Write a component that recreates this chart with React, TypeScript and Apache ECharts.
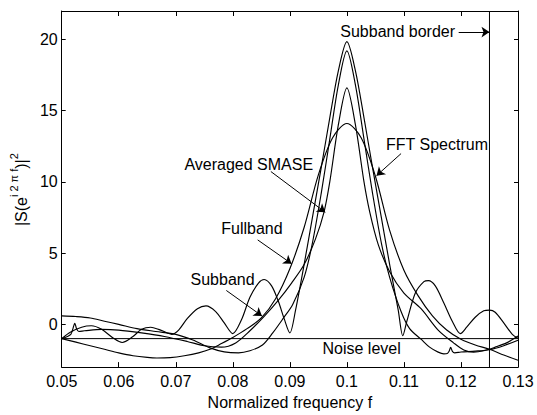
import React, { useEffect, useRef } from "react";
import * as echarts from "echarts";

// ---- axes ----
const X_MIN = 0.05;
const X_MAX = 0.13;
const Y_MIN = -3;
const Y_MAX = 22;
const xTicks = [0.05, 0.06, 0.07, 0.08, 0.09, 0.1, 0.11, 0.12, 0.13];
const yTicks = [0, 5, 10, 15, 20];

// ---- reference levels ----
const NOISE_LEVEL = -1;
const SUBBAND_BORDER = 0.125;

// ---- curves (normalized frequency, |S|^2) ----
const oscillating: [number, number][] = [
  [0.05, -1.0], [0.0515, -0.55], [0.0535, -0.2], [0.0552, -0.1], [0.057, -0.35],
  [0.059, -0.95], [0.0606, -1.27], [0.0625, -0.85], [0.064, -0.35], [0.0656, -0.2],
  [0.067, -0.35], [0.0685, -0.6], [0.0693, -0.7], [0.0705, -0.4], [0.072, 0.4],
  [0.0738, 1.1], [0.0753, 1.3], [0.077, 0.9], [0.0785, 0.1], [0.08, -0.65],
  [0.0815, 0.3], [0.083, 1.9], [0.0845, 2.9], [0.0855, 3.15], [0.0868, 2.7],
  [0.088, 1.6], [0.089, 0.4], [0.09, -0.6], [0.091, 1.0], [0.0925, 4.2],
  [0.094, 7.6], [0.0955, 11.0], [0.097, 14.5], [0.0985, 17.8], [0.1, 19.85],
  [0.1015, 17.8], [0.103, 14.5], [0.1045, 11.0], [0.106, 7.6], [0.1075, 4.2],
  [0.109, 1.0], [0.1098, -0.8], [0.1105, 0.2], [0.112, 2.2], [0.1135, 3.0],
  [0.1143, 3.07], [0.1155, 2.7], [0.117, 1.5], [0.1185, 0.2], [0.1199, -0.65],
  [0.121, -0.2], [0.1225, 0.5], [0.124, 0.95], [0.125, 1.0], [0.126, 0.85],
  [0.1275, 0.1], [0.129, -0.7], [0.13, -0.97],
];

const curveA: [number, number][] = [
  [0.05, 0.6], [0.0525, 0.55], [0.055, 0.45], [0.0575, 0.22], [0.06, 0.0],
  [0.0632, -0.3], [0.0665, -0.5], [0.07, -0.7], [0.073, -1.1], [0.076, -1.65],
  [0.0785, -1.93], [0.081, -2.0], [0.083, -1.85], [0.0852, -1.45], [0.087, -0.6],
  [0.0888, 0.4], [0.0905, 1.4], [0.0925, 3.3], [0.0939, 5.6], [0.0955, 9.2],
  [0.097, 13.0], [0.0985, 16.8], [0.1, 19.2], [0.1015, 16.8], [0.103, 13.0],
  [0.1045, 9.2], [0.1061, 5.6], [0.1075, 3.3], [0.1095, 0.9], [0.111, -0.3],
  [0.113, -1.04], [0.1145, -1.6], [0.116, -1.95], [0.117, -2.07], [0.1176, -2.05],
  [0.1179, -1.9], [0.1182, -1.62], [0.1185, -1.9], [0.1189, -2.0], [0.12, -1.94],
  [0.1225, -1.88], [0.125, -1.78], [0.1275, -1.5], [0.13, -1.12],
];

const curveB: [number, number][] = [
  [0.05, -1.0], [0.0525, -1.25], [0.055, -1.5], [0.0575, -1.75], [0.06, -2.0],
  [0.0625, -2.2], [0.065, -2.32], [0.0667, -2.36], [0.069, -2.33], [0.0715, -2.2],
  [0.074, -2.0], [0.076, -1.75], [0.078, -1.35], [0.08, -0.92], [0.0825, -0.3],
  [0.085, 0.45], [0.0875, 1.8], [0.09, 3.9], [0.0925, 6.8], [0.095, 10.5],
  [0.0975, 13.1], [0.1, 14.1], [0.1025, 13.1], [0.105, 10.4], [0.1075, 6.6],
  [0.11, 3.8], [0.1125, 2.0], [0.115, 0.6], [0.1175, -0.4], [0.12, -1.05],
  [0.1225, -1.45], [0.125, -1.75], [0.1275, -2.15], [0.13, -2.52],
];

const curveC: [number, number][] = [
  [0.05, -1.0], [0.051, -0.85], [0.0516, -0.7], [0.0519, -0.4], [0.0523, 0.08],
  [0.0526, -0.3], [0.053, -0.5], [0.054, -0.45], [0.057, -0.35], [0.06, -0.4],
  [0.064, -0.6], [0.068, -0.85], [0.072, -1.2], [0.075, -1.5], [0.078, -1.6],
  [0.0805, -1.3], [0.083, -0.45], [0.0855, 0.56], [0.088, 1.7], [0.0903, 2.9],
  [0.0925, 4.2], [0.0945, 6.0], [0.096, 7.9], [0.097, 10.0], [0.0985, 14.0],
  [0.1, 16.6], [0.1015, 14.0], [0.103, 10.0], [0.104, 7.9], [0.1055, 5.6],
  [0.1075, 3.7], [0.11, 2.2], [0.113, 1.1], [0.116, -0.4], [0.1187, -1.3],
  [0.1205, -1.8], [0.1222, -1.95], [0.124, -1.85], [0.126, -1.6], [0.128, -1.3],
  [0.13, -0.82],
];

// ---- annotations (data coordinates) ----
const annotationTexts = [
  { text: "Subband border", at: [0.1089, 20.58] },
  { text: "FFT Spectrum", at: [0.1158, 12.66] },
  { text: "Averaged SMASE", at: [0.0828, 11.24] },
  { text: "Fullband", at: [0.08335, 6.73] },
  { text: "Subband", at: [0.0782, 3.18] },
  { text: "Noise level", at: [0.10258, -1.68] },
];
const annotationArrows = [
  { from: [0.1196, 20.52], to: [0.125, 20.52] },
  { from: [0.1095, 11.99], to: [0.1052, 10.44] },
  { from: [0.08667, 10.73], to: [0.09621, 7.87] },
  { from: [0.08436, 5.93], to: [0.09031, 4.26] },
  { from: [0.07886, 2.38], to: [0.08511, 0.59] },
];

const FONT = "'Liberation Sans', Arial, Helvetica, sans-serif";
const BLACK = "#000";
const LINE_W = 1.15;

export default function App() {
  const ref = useRef<HTMLDivElement>(null);

  useEffect(() => {
    if (!ref.current) return;
    const chart = echarts.init(ref.current, undefined, { renderer: "svg" });

    const curve = (data: [number, number][]) => ({
      type: "line",
      data,
      xAxisIndex: 0,
      yAxisIndex: 0,
      smooth: 0.3,
      symbol: "none",
      silent: true,
      lineStyle: { color: BLACK, width: LINE_W },
    });

    const fmt = (v: number) => String(Number(v.toFixed(2)));

    chart.setOption({
      animation: false,
      backgroundColor: "#fff",
      textStyle: { fontFamily: FONT },
      grid: { left: 57, right: 19, top: 11, bottom: 40 },
      xAxis: [
        {
          type: "value",
          min: X_MIN,
          max: X_MAX,
          position: "bottom",
          name: "Normalized frequency f",
          nameLocation: "middle",
          nameGap: 21,
          nameTextStyle: { color: BLACK, fontSize: 16, fontFamily: FONT },
          axisLine: { show: true, onZero: false, lineStyle: { color: BLACK, width: 1 } },
          axisTick: { show: true, inside: true, length: 5, customValues: xTicks, lineStyle: { color: BLACK } },
          axisLabel: { show: true, customValues: xTicks, formatter: fmt, color: BLACK, fontSize: 16, fontFamily: FONT, margin: 6 },
          splitLine: { show: false },
        },
        {
          type: "value",
          min: X_MIN,
          max: X_MAX,
          position: "top",
          axisLine: { show: true, onZero: false, lineStyle: { color: BLACK, width: 1 } },
          axisTick: { show: true, inside: true, length: 5, customValues: xTicks, lineStyle: { color: BLACK } },
          axisLabel: { show: false },
          splitLine: { show: false },
        },
      ],
      yAxis: [
        {
          type: "value",
          min: Y_MIN,
          max: Y_MAX,
          position: "left",
          name: "{n||S(e}{s|i 2 π f}{n|)|}{s|2}{h| }",
          nameLocation: "middle",
          nameRotate: 90,
          nameGap: 30,
          nameTextStyle: {
            color: BLACK,
            fontSize: 16,
            fontFamily: FONT,
            rich: {
              n: { fontSize: 16, lineHeight: 16, verticalAlign: "bottom", color: BLACK, fontFamily: FONT },
              s: { fontSize: 11, lineHeight: 11, verticalAlign: "top", color: BLACK, fontFamily: FONT },
              h: { fontSize: 4, lineHeight: 21, color: BLACK },
            },
          },
          axisLine: { show: true, onZero: false, lineStyle: { color: BLACK, width: 1 } },
          axisTick: { show: true, inside: true, length: 4, customValues: yTicks, lineStyle: { color: BLACK } },
          axisLabel: { show: true, customValues: yTicks, color: BLACK, fontSize: 16, fontFamily: FONT, margin: 4 },
          splitLine: { show: false },
        },
        {
          type: "value",
          min: Y_MIN,
          max: Y_MAX,
          position: "right",
          axisLine: { show: true, onZero: false, lineStyle: { color: BLACK, width: 1 } },
          axisTick: { show: true, inside: true, length: 4, customValues: yTicks, lineStyle: { color: BLACK } },
          axisLabel: { show: false },
          splitLine: { show: false },
        },
      ],
      series: [
        curve(oscillating),
        curve(curveA),
        curve(curveB),
        curve(curveC),
        {
          // noise level
          type: "line",
          data: [[X_MIN, NOISE_LEVEL], [X_MAX, NOISE_LEVEL]],
          symbol: "none",
          silent: true,
          lineStyle: { color: BLACK, width: 1 },
          markPoint: {
            silent: true,
            symbol: "circle",
            symbolSize: 0,
            itemStyle: { color: "rgba(0,0,0,0)" },
            label: { show: true, position: "inside", color: BLACK, fontSize: 16, fontFamily: FONT },
            data: annotationTexts.map((a) => ({
              coord: a.at,
              value: a.text,
              label: { formatter: a.text },
            })),
          },
        },
        {
          // subband border
          type: "line",
          data: [[SUBBAND_BORDER, Y_MIN], [SUBBAND_BORDER, Y_MAX]],
          symbol: "none",
          silent: true,
          lineStyle: { color: BLACK, width: 1 },
        },
        {
          type: "line",
          data: [],
          symbol: "none",
          silent: true,
          markLine: {
            silent: true,
            symbol: ["none", "arrow"],
            symbolSize: 8,
            label: { show: false },
            lineStyle: { type: "solid", color: BLACK, width: 1 },
            itemStyle: { color: BLACK },
            emphasis: { disabled: true },
            data: annotationArrows.map((a) => [{ coord: a.from }, { coord: a.to }]),
          },
        },
      ],
    });

    return () => chart.dispose();
  }, []);

  return (
    <div
      ref={ref}
      style={{ position: "fixed", left: 0, top: 0, width: 537, height: 415, background: "#fff" }}
    />
  );
}
